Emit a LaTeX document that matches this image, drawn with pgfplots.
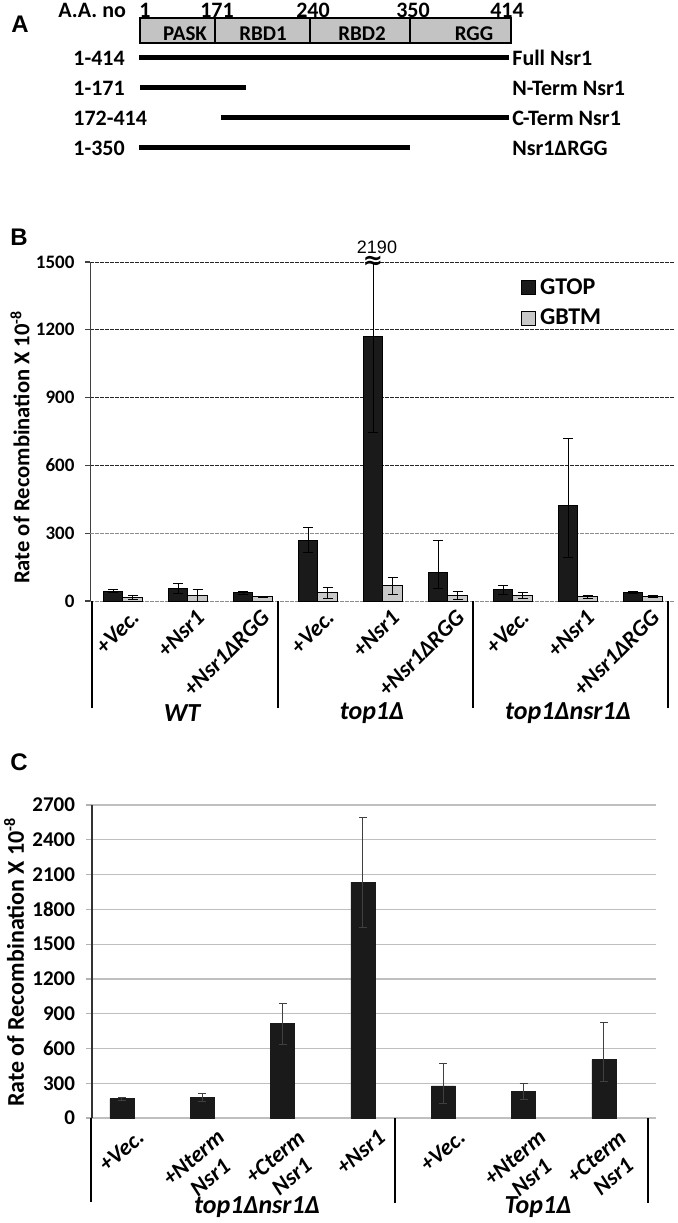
\documentclass[border=0pt]{standalone}
\usepackage{pgfplots}
\pgfplotsset{compat=1.18}
\usepackage{fontspec}
\setmainfont{Carlito}
\newfontfamily\arialf{Liberation Sans}
\newfontfamily\dejavu{DejaVu Sans}
\definecolor{gtop}{HTML}{1A1A1A}
\definecolor{gbtm}{HTML}{C8C8C8}
\definecolor{domain}{HTML}{C3C3C3}
\newcommand{\fs}[1]{\fontsize{#1}{#1}\selectfont}
\begin{document}
\begin{tikzpicture}
\path[use as bounding box] (0pt,0pt) rectangle (338.5pt,-611.5pt);

% ---------------- Panel B axis ----------------
\begin{axis}[
  at={(45.25pt,-300.5pt)}, anchor=south west, scale only axis,
  width=292.5pt, height=169.5pt,
  xmin=-0.5, xmax=8.5, ymin=0, ymax=1500,
  ybar=0pt, bar width=9.75pt,
  axis x line*=bottom, axis y line*=left,
  x axis line style={draw=none},
  y axis line style={-, draw=black!75, line width=0.7pt},
  xtick={0,...,8},
  xticklabels={+Vec.,+Nsr1,+Nsr1ΔRGG,+Vec.,+Nsr1,+Nsr1ΔRGG,+Vec.,+Nsr1,+Nsr1ΔRGG},
  xtick style={draw=none},
  xticklabel style={font=\bfseries\itshape\fs{11.5}, xshift=3.5pt, yshift=-1pt, rotate=45, anchor=north east, inner sep=0pt},
  ytick={600,900,1200,1500}, extra y ticks={0,300},
  ymajorgrids,
  grid style={dash pattern=on 1.65pt off 0.85pt, black!85, line width=0.5pt},
  extra y tick style={grid style={dash pattern=on 1.65pt off 0.85pt, black!45, line width=0.5pt}},
  ytick style={draw=black!75, line width=0.6pt}, tick align=outside, major tick length=2.5pt,
  yticklabel style={font=\bfseries\fs{9.5}, xshift=-2pt},
  /pgf/number format/assume math mode=true,
  /pgf/number format/set thousands separator={},
  legend style={at={(0.735,0.965)}, anchor=north west, draw=none, fill=none,
    font=\bfseries\fs{12}, inner sep=0pt, row sep=2pt},
  legend cell align=left,
  legend image code/.code={\draw[#1, draw=black, line width=0.6pt] (0pt,-3.5pt) rectangle (7pt,3.5pt);},
]
\addplot[fill=gtop, draw=black, line width=0.5pt,
  error bars/.cd, y dir=both, y explicit,
  error bar style={black, line width=0.5pt},
  error mark options={rotate=90, mark size=2.5pt, line width=0.5pt, black}]
coordinates {
 (0,44) +- (0,6)
 (1,56) +- (0,22)
 (2,37) +- (0,6)
 (3,269) +- (0,55)
 (4,1170) += (0,1020) -= (0,424)
 (5,124) += (0,145) -= (0,70)
 (6,50) +- (0,19)
 (7,423) += (0,294) -= (0,232)
 (8,37) +- (0,5)
};
\addplot[fill=gbtm, draw=black, line width=0.5pt,
  error bars/.cd, y dir=both, y explicit,
  error bar style={black, line width=0.5pt},
  error mark options={rotate=90, mark size=2.5pt, line width=0.5pt, black}]
coordinates {
 (0,15) +- (0,10)
 (1,25) +- (0,25)
 (2,18) +- (0,4)
 (3,37) +- (0,24)
 (4,68) +- (0,37)
 (5,25) +- (0,18)
 (6,25) +- (0,12)
 (7,18) +- (0,5)
 (8,21) +- (0,5)
};
\legend{GTOP,GBTM}
\end{axis}

% ---------------- Panel C axis ----------------
\begin{axis}[
  at={(46pt,-559pt)}, anchor=south west, scale only axis,
  width=282pt, height=156.5pt,
  xmin=-0.373, xmax=6.648, ymin=0, ymax=2700,
  ybar=0pt, bar width=12pt,
  axis x line*=bottom, axis y line*=left,
  x axis line style={draw=none},
  y axis line style={-, draw=black!80, line width=0.6pt},
  xtick={0,...,6},
  xticklabels={+Vec.,{+Nterm\\Nsr1},{+Cterm\\Nsr1},+Nsr1,+Vec.,{+Nterm\\Nsr1},{+Cterm\\Nsr1}},
  xtick style={draw=none},
  xticklabel style={font=\bfseries\itshape\fontsize{11.5}{13}\selectfont, align=center, xshift=7pt, yshift=-2pt, rotate=40, anchor=north east, inner sep=0pt},
  ytick={0,300,...,2700},
  ymajorgrids,
  grid style={black!25, line width=0.6pt},
  ytick style={draw=black!30, line width=0.6pt}, tick align=outside, major tick length=3pt,
  yticklabel style={font=\bfseries\fs{10.5}, xshift=-2pt},
  /pgf/number format/assume math mode=true,
  /pgf/number format/set thousands separator={},
]
\addplot[fill=gtop, draw=gtop, line width=0.3pt,
  error bars/.cd, y dir=both, y explicit,
  error bar style={black!75, line width=0.5pt},
  error mark options={rotate=90, mark size=2pt, line width=0.5pt, black!75}]
coordinates {
 (0,166) +- (0,11)
 (1,177) +- (0,32)
 (2,814) +- (0,177)
 (3,2034) += (0,561) -= (0,387)
 (4,277) += (0,194) -= (0,148)
 (5,229) +- (0,71)
 (6,503) += (0,317) -= (0,189)
};
\end{axis}

\begin{scope}[x=0.5pt,y=-0.5pt]
% ---------------- Panel A ----------------
\node[font=\arialf\bfseries\fs{12}] at (20,24) {A};
\node[anchor=base west, inner sep=0, font=\bfseries\fs{11}] at (58,17) {A.A. no};
\foreach \xx/\tt in {145/1,217/171,313/240,413/350,507/414}
  \node[anchor=base, inner sep=0, font=\bfseries\fs{11}] at (\xx,17) {\tt};
\draw[fill=domain, line width=0.8pt] (140,18) rectangle (511,43);
\draw[line width=0.8pt] (215,18) -- (215,43) (310,18) -- (310,43) (410,18) -- (410,43);
\node[anchor=base, inner sep=0, font=\bfseries\fs{10.5}] at (185,40) {PASK};
\node[anchor=base, inner sep=0, font=\bfseries\fs{10.5}] at (263,40) {RBD1};
\node[anchor=base, inner sep=0, font=\bfseries\fs{10.5}] at (362,40) {RBD2};
\node[anchor=base, inner sep=0, font=\bfseries\fs{10.5}] at (474,40) {RGG};
\draw[line width=2.5pt] (139,57) -- (509,57);
\draw[line width=2.5pt] (140,87) -- (246,87);
\draw[line width=2.5pt] (221,117) -- (509,117);
\draw[line width=2.5pt] (139,147) -- (410,147);
\foreach \yy/\ll/\rr in {65/1-414/Full Nsr1, 95/1-171/N-Term Nsr1, 125/172-414/C-Term Nsr1, 155/1-350/Nsr1ΔRGG}{
  \node[anchor=base west, inner sep=0, font=\bfseries\fs{11}] at (73,\yy) {\ll};
  \node[anchor=base west, inner sep=0, font=\bfseries\fs{11}] at (512,\yy) {\rr};
}

% ---------------- Panel B decorations ----------------
\node[font=\arialf\bfseries\fs{12}] at (19,237) {B};
\node[font=\arialf\fs{9}] at (377,247) {2190};
\node[font=\dejavu\bfseries\fs{12}] at (373,262) {≈};
\foreach \xx in {92,278,473,668}
  \draw[line width=1pt] (\xx,601) -- (\xx,708);
\node[font=\bfseries\itshape\fs{13}] at (182,713) {WT};
\node[font=\bfseries\itshape\fs{13}] at (372,713) {top1Δ};
\node[font=\bfseries\itshape\fs{13}] at (568,713) {top1Δnsr1Δ};
\node[rotate=90, font=\bfseries\fs{11.3}] at (20,447) {Rate of Recombination X 10\textsuperscript{-8}};

% ---------------- Panel C decorations ----------------
\node[font=\arialf\bfseries\fs{12}] at (19,762) {C};
\draw[line width=1pt] (91,1118) -- (91,1202);
\draw[line width=1pt] (395,1118) -- (395,1203);
\draw[line width=1pt] (648,1118) -- (648,1203);
\node[font=\bfseries\itshape\fs{13}] at (257,1207) {top1Δnsr1Δ};
\node[font=\bfseries\itshape\fs{13}] at (538,1207) {Top1Δ};
\node[rotate=90, font=\bfseries\fs{12}] at (14,962) {Rate of Recombination X 10\textsuperscript{-8}};
\end{scope}
\end{tikzpicture}
\end{document}
